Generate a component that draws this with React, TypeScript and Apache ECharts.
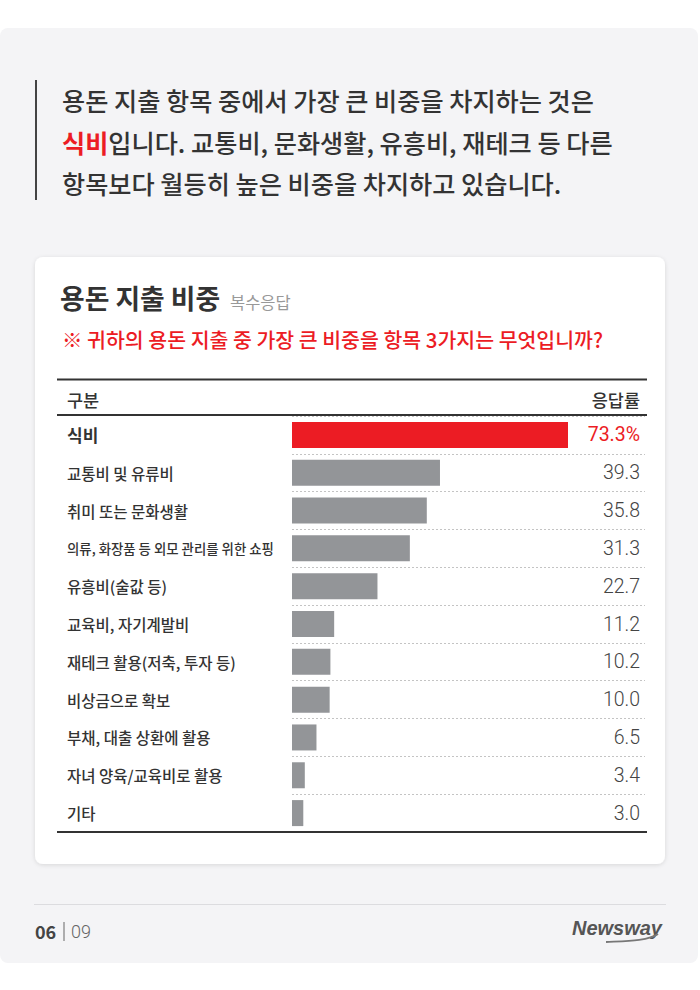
import React, { useEffect, useRef } from "react";
import * as echarts from "echarts";

const categories = [
  "식비",
  "교통비 및 유류비",
  "취미 또는 문화생활",
  "의류, 화장품 등 외모 관리를 위한 쇼핑",
  "유흥비(술값 등)",
  "교육비, 자기계발비",
  "재테크 활용(저축, 투자 등)",
  "비상금으로 확보",
  "부채, 대출 상환에 활용",
  "자녀 양육/교육비로 활용",
  "기타",
];
const values = [73.3, 39.3, 35.8, 31.3, 22.7, 11.2, 10.2, 10.0, 6.5, 3.4, 3.0];
const valueLabels = ["73.3%", "39.3", "35.8", "31.3", "22.7", "11.2", "10.2", "10.0", "6.5", "3.4", "3.0"];

const introLine1 = "용돈 지출 항목 중에서 가장 큰 비중을 차지하는 것은";
const introLine2Red = "식비";
const introLine2Rest = "입니다. 교통비, 문화생활, 유흥비, 재테크 등 다른";
const introLine3 = "항목보다 월등히 높은 비중을 차지하고 있습니다.";
const chartTitle = "용돈 지출 비중";
const chartNote = "복수응답";
const question = "※ 귀하의 용돈 지출 중 가장 큰 비중을 항목 3가지는 무엇입니까?";
const headerLeft = "구분";
const headerRight = "응답률";
const pageNo = "06";
const pageTotal = "09";
const brand = "Newsway";

const FONT = '"Noto Sans CJK KR", "Noto Sans", sans-serif';
const RED = "#ec1c24";
const GRAY_BAR = "#939598";
const INTRO_SIZE = 25.2;

export default function App() {
  const ref = useRef<HTMLDivElement>(null);
  useEffect(() => {
    if (!ref.current) return;
    const chart = echarts.init(ref.current, undefined, { renderer: "svg" });
    const option: any = {
      animation: false,
      backgroundColor: "#ffffff",
      textStyle: { fontFamily: FONT },
      graphic: [
        { type: "rect", z: -20, shape: { x: 0, y: 28, width: 698, height: 935, r: 8 }, style: { fill: "#f4f4f6" } },
        {
          type: "rect",
          z: -10,
          shape: { x: 35, y: 257, width: 630, height: 607, r: 8 },
          style: { fill: "#ffffff", shadowBlur: 4, shadowColor: "rgba(0,0,0,0.12)", shadowOffsetY: 1 },
        },
        { type: "rect", z: 10, shape: { x: 35, y: 80, width: 2, height: 120 }, style: { fill: "#444" } },
        {
          type: "text", z: 10, x: 62, y: 100,
          style: { text: introLine1, fontFamily: FONT, fontSize: INTRO_SIZE, fontWeight: 500, fill: "#333", verticalAlign: "middle" },
        },
        {
          type: "text", z: 10, x: 62, y: 142,
          style: {
            text: `{r|${introLine2Red}}{n|${introLine2Rest}}`,
            verticalAlign: "middle",
            rich: {
              r: { fontFamily: FONT, fontSize: INTRO_SIZE, fontWeight: "bold", fill: RED, color: RED },
              n: { fontFamily: FONT, fontSize: INTRO_SIZE, fontWeight: 500, fill: "#333", color: "#333" },
            },
          },
        },
        {
          type: "text", z: 10, x: 62, y: 183,
          style: { text: introLine3, fontFamily: FONT, fontSize: INTRO_SIZE, fontWeight: 500, fill: "#333", verticalAlign: "middle" },
        },
        {
          type: "text", z: 10, x: 60, y: 297,
          style: { text: chartTitle, fontFamily: FONT, fontSize: 26.8, fontWeight: "bold", fill: "#333", verticalAlign: "middle" },
        },
        {
          type: "text", z: 10, x: 230, y: 302,
          style: { text: chartNote, fontFamily: FONT, fontSize: 16.5, fill: "#999", verticalAlign: "middle" },
        },
        {
          type: "text", z: 10, x: 62, y: 339,
          style: { text: question, fontFamily: FONT, fontSize: 20.5, fontWeight: 500, fill: RED, verticalAlign: "middle" },
        },
        { type: "rect", z: 50, shape: { x: 57, y: 378.5, width: 590, height: 2 }, style: { fill: "#333" } },
        {
          type: "text", z: 10, x: 67, y: 399,
          style: { text: headerLeft, fontFamily: FONT, fontSize: 17.5, fontWeight: 500, fill: "#333", verticalAlign: "middle" },
        },
        {
          type: "text", z: 10, x: 640, y: 399,
          style: { text: headerRight, fontFamily: FONT, fontSize: 17.5, fontWeight: 500, fill: "#333", align: "right", verticalAlign: "middle" },
        },
        { type: "rect", z: 50, shape: { x: 57, y: 414, width: 590, height: 2 }, style: { fill: "#333" } },
        { type: "rect", z: 50, shape: { x: 57, y: 831, width: 590, height: 2 }, style: { fill: "#333" } },
        { type: "rect", z: 10, shape: { x: 34, y: 904, width: 632, height: 1 }, style: { fill: "#dcdcdf" } },
        {
          type: "text", z: 10, x: 35, y: 931,
          style: { text: pageNo, fontFamily: FONT, fontSize: 18, fontWeight: "bold", fill: "#444", verticalAlign: "middle" },
        },
        { type: "rect", z: 10, shape: { x: 63.5, y: 922, width: 1, height: 19 }, style: { fill: "#666" } },
        {
          type: "text", z: 10, x: 71, y: 931,
          style: { text: pageTotal, fontFamily: '"Roboto", sans-serif', fontSize: 18, fontWeight: 300, fill: "#666", verticalAlign: "middle" },
        },
        {
          type: "text", z: 10, x: 662, y: 928,
          style: {
            text: brand, fontFamily: '"Liberation Sans", sans-serif', fontSize: 20, fontWeight: "bold", fontStyle: "italic",
            fill: "#555", align: "right", verticalAlign: "middle",
          },
        },
        {
          type: "bezierCurve", z: 10,
          shape: { x1: 606, y1: 942, x2: 658, y2: 934, cpx1: 625, cpy1: 941, cpx2: 648, cpy2: 941 },
          style: { stroke: "#777", lineWidth: 1.8, fill: "none" },
        },
      ],
      grid: { left: 292, top: 416, width: 353, height: 416, containLabel: false },
      xAxis: { type: "value", min: 0, max: 93.75, show: false },
      yAxis: [
        {
          type: "category",
          data: categories,
          inverse: true,
          axisLine: { show: false },
          axisTick: { show: false },
          splitLine: { show: true, lineStyle: { type: [2, 2], color: "#c4c4c4", width: 1 } },
          axisLabel: {
            align: "left",
            margin: 225,
            interval: 0,
            formatter: (v: string, i: number) => (i === 0 ? `{b|${v}}` : i === 3 ? `{s|${v}}` : `{n|${v}}`),
            rich: {
              b: { fontFamily: FONT, fontSize: 17, fontWeight: "bold", color: "#333" },
              n: { fontFamily: FONT, fontSize: 15.5, fontWeight: 500, color: "#333" },
              s: { fontFamily: FONT, fontSize: 13.4, fontWeight: 500, color: "#333" },
            },
          },
        },
        {
          type: "category",
          data: valueLabels,
          inverse: true,
          position: "right",
          offset: -5,
          axisLine: { show: false },
          axisTick: { show: false },
          splitLine: { show: false },
          axisLabel: {
            align: "right",
            margin: 0,
            interval: 0,
            formatter: (v: string, i: number) => (i === 0 ? `{r|${v}}` : `{n|${v}}`),
            rich: {
              r: { fontFamily: '"Roboto", sans-serif', fontSize: 19.5, color: RED },
              n: { fontFamily: '"Roboto", sans-serif', fontSize: 19.5, fontWeight: 300, color: "#444" },
            },
          },
        },
      ],
      series: [
        {
          type: "bar",
          yAxisIndex: 0,
          barWidth: 26,
          data: values.map((v, i) => ({ value: v, itemStyle: { color: i === 0 ? RED : GRAY_BAR } })),
        },
      ],
    };
    chart.setOption(option);
    return () => chart.dispose();
  }, []);
  return <div ref={ref} style={{ position: "absolute", left: 0, top: 0, width: 700, height: 990 }} />;
}
